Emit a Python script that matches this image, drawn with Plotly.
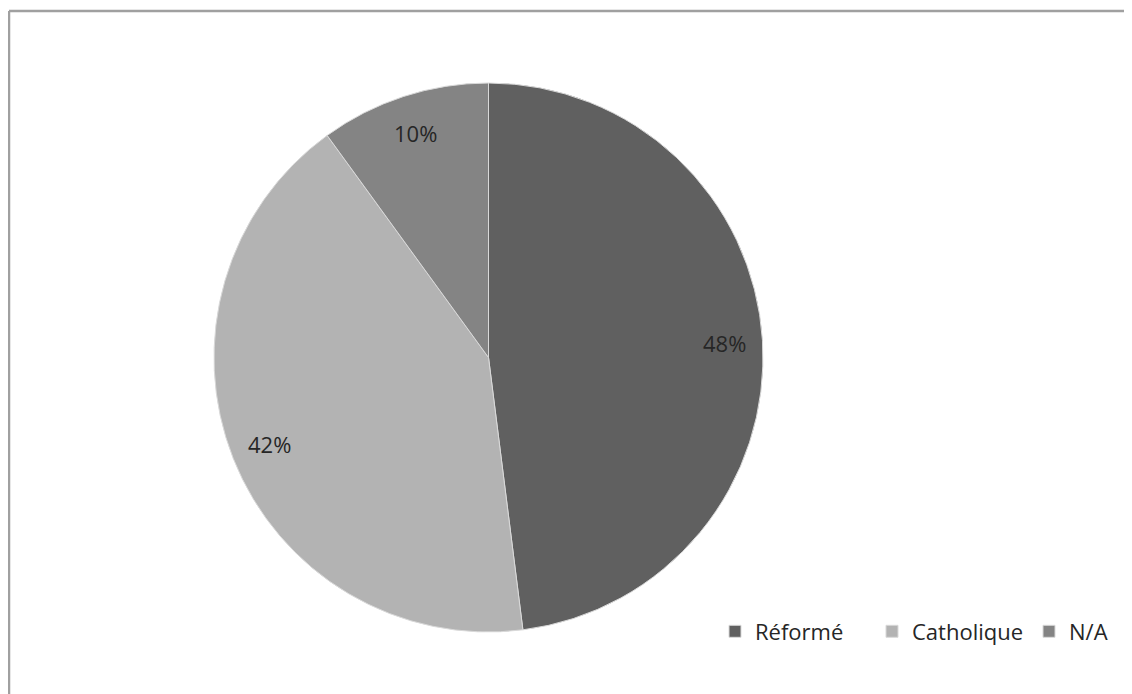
import numpy as np
import plotly.graph_objects as go

labels = ["Réformé", "Catholique", "N/A"]
values = [48, 42, 10]
colors = ["#606060", "#b3b3b3", "#848484"]

W, H = 1132, 694
OFF = 8  # page body margin offset
# pie placement in pixels (center and radius), in figure coordinates
cx, cy, r = 488.5 - OFF, 357.5 - OFF, 274.5

fig = go.Figure()
fig.add_trace(go.Pie(
    labels=labels, values=values, sort=False, direction="clockwise", rotation=0,
    marker=dict(colors=colors, line=dict(color="#d9d9d9", width=1)),
    textinfo="none", hoverinfo="label+percent",
    domain=dict(x=[(cx - r) / W, (cx + r) / W], y=[1 - (cy + r) / H, 1 - (cy - r) / H]),
))

# percentage labels placed at slice mid-angles
vals = np.array(values, dtype=float)
frac = vals / vals.sum()
ends = np.cumsum(frac)
mids = ends - frac / 2
annotations = []
for f, m in zip(frac, mids):
    ang = 2 * np.pi * m
    rr = 0.86 * r
    px = cx + rr * np.sin(ang)
    py = cy - rr * np.cos(ang)
    annotations.append(dict(
        x=px / W, y=1 - py / H, xref="paper", yref="paper",
        xanchor="center", yanchor="middle",
        text=f"{round(f * 100)}%", showarrow=False,
        font=dict(family="Open Sans", size=22, color="#262626"),
    ))

fig.update_layout(
    width=W, height=H,
    margin=dict(l=0, r=0, t=0, b=0, autoexpand=False),
    paper_bgcolor="white", plot_bgcolor="white",
    showlegend=True,
    legend=dict(orientation="h", x=(730 - OFF - 15) / W, y=1 - (631.5 - OFF) / H,
                xanchor="left", yanchor="middle",
                font=dict(family="Open Sans", size=22, color="#262626"),
                itemwidth=30, traceorder="normal", entrywidth=112, entrywidthmode="pixels"),
    annotations=annotations,
    shapes=[
        dict(type="line", xref="paper", yref="paper", x0=(9 - OFF) / W, x1=1,
             y0=1 - (11 - OFF) / H, y1=1 - (11 - OFF) / H,
             line=dict(color="#a0a0a0", width=2.5)),
        dict(type="line", xref="paper", yref="paper", x0=(9 - OFF) / W, x1=(9 - OFF) / W,
             y0=0, y1=1 - (11 - OFF) / H,
             line=dict(color="#a0a0a0", width=2.5)),
    ],
)

fig.write_html("out.html")
